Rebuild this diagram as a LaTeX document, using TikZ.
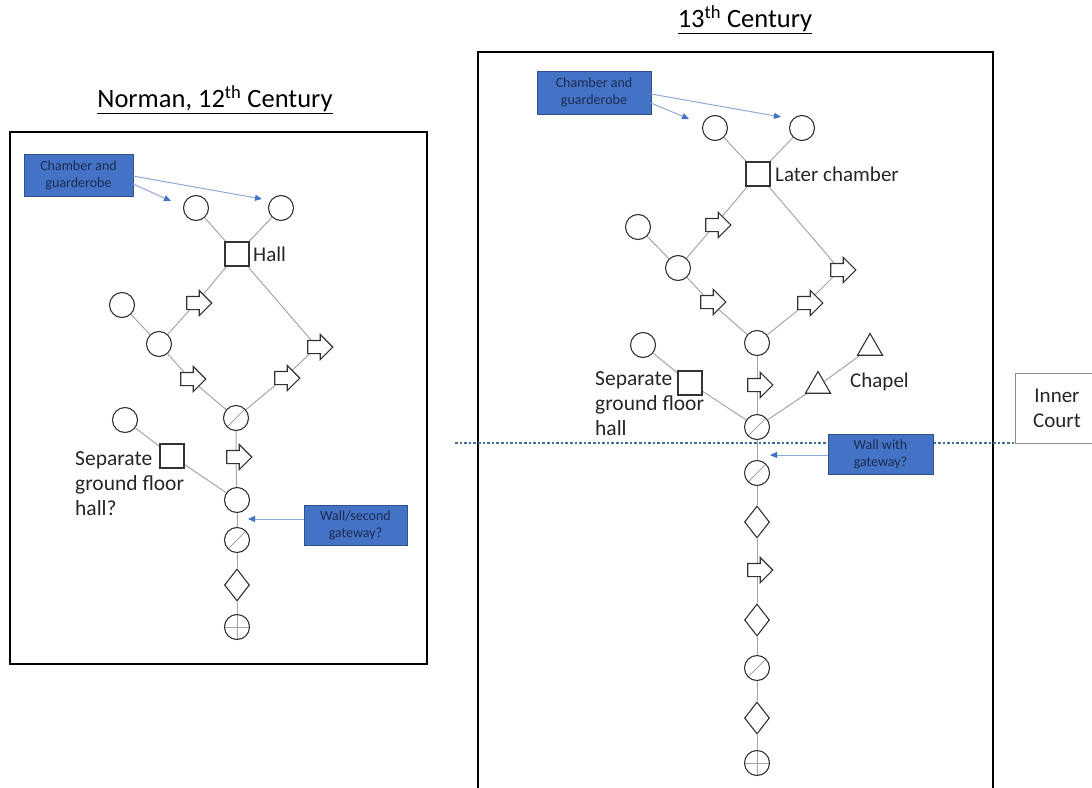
\documentclass[tikz,border=0pt]{standalone}
\usepackage{fontspec}
\setmainfont{Carlito}
\usetikzlibrary{shapes.geometric,shapes.arrows,backgrounds,arrows.meta}
\definecolor{edgec}{HTML}{A6A6A6}
\definecolor{shapec}{HTML}{333333}
\definecolor{boxfill}{HTML}{4472C4}
\definecolor{boxline}{HTML}{2F528F}
\definecolor{boxtext}{HTML}{1C2C54}
\definecolor{calloutc}{HTML}{8FAADC}
\definecolor{dotc}{HTML}{41719C}
\tikzset{
  base/.style={draw=shapec, line width=1.1pt, inner sep=0pt, fill=white},
  circ/.style={base, circle, minimum size=25pt},
  slashc/.style={circ, path picture={\draw[edgec, line width=1pt] (path picture bounding box.south west) -- (path picture bounding box.north east);}},
  crossc/.style={circ, path picture={\draw[edgec, line width=1pt] (path picture bounding box.south) -- (path picture bounding box.north) (path picture bounding box.west) -- (path picture bounding box.east);}},
  sq/.style={base, rectangle, minimum size=24pt},
  dia/.style={base, diamond, minimum width=25pt, minimum height=32pt},
  tri/.style={base, regular polygon, regular polygon sides=3, minimum size=29pt},
  fat/.style={base, single arrow, minimum height=25pt, text height=6pt, text depth=6pt, text width=0pt, single arrow head extend=6pt},
  edge/.style={draw=edgec, line width=1pt},
  lbl/.style={font=\fontsize{21}{25}\selectfont, text=black!85, inner sep=0pt},
  bluebox/.style={draw=boxline, line width=0.6pt, fill=boxfill, text=boxtext, align=center, font=\fontsize{14}{17}\selectfont, inner sep=0pt},
  callout/.style={draw=calloutc, line width=1pt, -{Triangle[length=7pt,width=6pt,color=boxfill]}},
  frame/.style={draw=black, line width=1.1pt},
  ttl/.style={font=\fontsize{26.5}{30}\selectfont, inner sep=0pt}
}
\begin{document}
\begin{tikzpicture}[x=1pt,y=-1pt]
\useasboundingbox (0,0) rectangle (1092,787);
% ---------- frames ----------
\draw[frame] (10,132) rectangle (427,664);
\draw[frame] (478,800) -- (478,52) -- (993,52) -- (993,800);
% titles
\node[ttl] (t1) at (215,100) {\underline{Norman, 12\textsuperscript{th} Century}};
\node[ttl] (t2) at (745,20) {\underline{13\textsuperscript{th} Century}};
% ---------- left diagram ----------
\node[circ] (lc1) at (196,208) {};
\node[circ] (lc2) at (281,208) {};
\node[sq] (lhall) at (237,254) {};
\node[lbl, anchor=west] (lhalll) at (253,254) {Hall};
\node[circ] (lc3) at (122,305) {};
\node[fat] (la1) at (196,303) {};
\node[circ] (lc4) at (159,344) {};
\node[fat] (la2) at (317,347) {};
\node[fat] (la3) at (190,379) {};
\node[fat] (la4) at (284,378) {};
\node[slashc] (ls1) at (236,418) {};
\node[circ] (lc5) at (125,420) {};
\node[sq] (lsq) at (172,456) {};
\node[fat] (la5) at (236,457) {};
\node[circ] (lc6) at (237,500) {};
\node[slashc] (ls2) at (237,540) {};
\node[dia] (ld1) at (237,585) {};
\node[crossc] (lx1) at (237,627) {};
\node[lbl, anchor=north west, align=left, font=\fontsize{21.5}{25}\selectfont] (lsep) at (75,451) {Separate\\ground floor\\hall?};
\begin{scope}[on background layer]
\path[edge] (lhall) -- (lc1);
\path[edge] (lhall) -- (lc2);
\path[edge] (lhall) -- (la1) -- (lc4);
\path[edge] (lhall) -- (la2);
\path[edge] (la2) -- (la4) -- (ls1);
\path[edge] (lc3) -- (lc4);
\path[edge] (lc4) -- (la3) -- (ls1);
\path[edge] (ls1) -- (la5) -- (lc6);
\path[edge] (lc5) -- (lsq) -- (lc6);
\path[edge] (lc6) -- (ls2) -- (ld1) -- (lx1);
\end{scope}
% callouts left
\node[bluebox, minimum width=109pt, minimum height=42pt] (lb1) at (78.5,175) {Chamber and\\guarderobe};
\coordinate (lp1) at (171,201);
\coordinate (lp2) at (262,199);
\draw[callout] (133,184) -- (lp1);
\draw[callout] (133,176) -- (lp2);
\node[bluebox, minimum width=103pt, minimum height=40pt] (lb2) at (355.5,525) {Wall/second\\gateway?};
\coordinate (lp3) at (248,519);
\draw[callout] (lb2.west |- 0,519) -- (lp3);
% ---------- right diagram ----------
\draw[draw=dotc, line width=2.6pt, dash pattern=on 2.6pt off 2pt] (455,443) -- (1017,443);
\node[circ] (rc1) at (715,128) {};
\node[circ] (rc2) at (802,128) {};
\node[sq] (rch) at (758,174) {};
\node[lbl, anchor=west] (rchl) at (775,174) {Later chamber};
\node[circ] (rc3) at (638,227) {};
\node[fat] (ra1) at (715,225) {};
\node[circ] (rc4) at (678,268) {};
\node[fat] (ra2) at (840,270) {};
\node[fat] (ra3) at (710,302) {};
\node[fat] (ra4) at (807,303) {};
\node[circ] (rc5) at (757,343) {};
\node[circ] (rc6) at (643,345) {};
\node[tri] (rt1) at (870,348) {};
\node[sq] (rsq) at (690,383) {};
\node[fat] (ra5) at (757,385) {};
\node[tri] (rt2) at (818,386) {};
\node[lbl, anchor=west] (rchap) at (850,382) {Chapel};
\node[slashc] (rs1) at (757,427) {};
\node[slashc] (rs2) at (757,473) {};
\node[dia] (rd1) at (757,522) {};
\node[fat] (ra6) at (757,570) {};
\node[dia] (rd2) at (757,620) {};
\node[slashc] (rs3) at (757,668) {};
\node[dia] (rd3) at (757,718) {};
\node[crossc] (rx1) at (757,763) {};
\node[lbl, anchor=north west, align=left, font=\fontsize{21.5}{25}\selectfont] (rsep) at (595,371) {Separate\\ground floor\\hall};
\begin{scope}[on background layer]
\path[edge] (rch) -- (rc1);
\path[edge] (rch) -- (rc2);
\path[edge] (rch) -- (ra1) -- (rc4);
\path[edge] (rch) -- (ra2);
\path[edge] (ra2) -- (ra4) -- (rc5);
\path[edge] (rc3) -- (rc4);
\path[edge] (rc4) -- (ra3) -- (rc5);
\path[edge] (rc5) -- (ra5) -- (rs1);
\path[edge] (rc6) -- (rsq) -- (rs1);
\path[edge] (rs1) -- (rt2) -- (rt1);
\path[edge] (rs1) -- (rs2) -- (rd1) -- (ra6) -- (rd2) -- (rs3) -- (rd3) -- (rx1);
\end{scope}
% callouts right
\node[bluebox, minimum width=114pt, minimum height=43pt] (rb1) at (594,92.5) {Chamber and\\guarderobe};
\coordinate (rp1) at (689,119);
\coordinate (rp2) at (781,117);
\draw[callout] (651,103) -- (rp1);
\draw[callout] (651,94) -- (rp2);
\node[bluebox, minimum width=105pt, minimum height=40pt] (rb2) at (880.5,454) {Wall with\\gateway?};
\coordinate (rp3) at (770,455);
\draw[callout] (rb2.west |- 0,455) -- (rp3);
% inner court
\node[draw=black!45, line width=0.8pt, fill=white, minimum width=90pt, minimum height=70pt, anchor=north west, inner sep=0pt] (ic) at (1015,373) {};
\node[lbl, align=center] (icl) at (1057,408) {Inner\\Court};
\end{tikzpicture}
\end{document}
